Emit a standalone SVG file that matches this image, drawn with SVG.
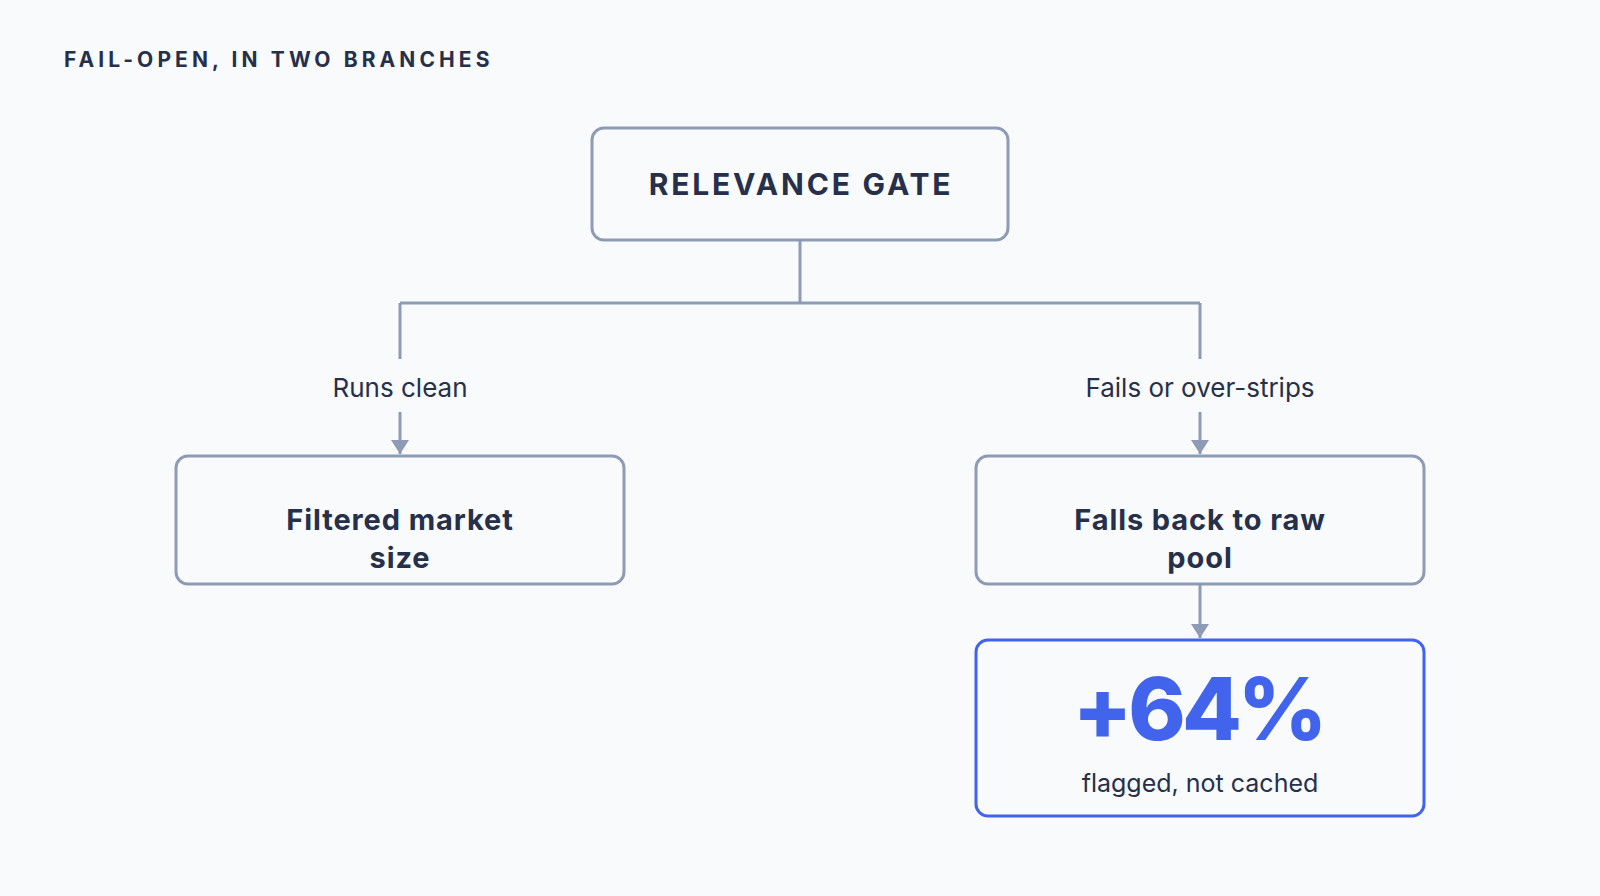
<svg xmlns="http://www.w3.org/2000/svg" width="1600" height="896" viewBox="0 0 1600 896">
<defs>
<marker id="arr" viewBox="0 0 14 18" refX="14" refY="9" markerWidth="14" markerHeight="18" markerUnits="userSpaceOnUse" orient="auto">
<path d="M0,0 L14,9 L0,18 Z" fill="#8E9BB4"/>
</marker>
<style>
.box{fill:#F8FAFC;stroke:#8E9BB4;stroke-width:3}
.hl{fill:#F8FAFC;stroke:#4263EB;stroke-width:3}
.ln{fill:none;stroke:#8E9BB4;stroke-width:3}
.t{font-family:Inter,"Liberation Sans",sans-serif;fill:#26304A;text-anchor:middle}
.title{font-family:Inter,"Liberation Sans",sans-serif;fill:#26304A;font-weight:700;font-size:21px;letter-spacing:4.1px}
.head{font-weight:700;font-size:30px;letter-spacing:2.8px}
.node{font-weight:700;font-size:29px;letter-spacing:0.9px}
.lab{font-size:26px}
.sub{font-size:25px}
.big{font-weight:800;font-size:87px;fill:#4263EB;letter-spacing:-4px}
</style>
</defs>
<rect width="1600" height="896" fill="#F8FAFC"/>
<text class="title" x="64" y="67">FAIL-OPEN, IN TWO BRANCHES</text>
<g id="connectors">
<path class="ln" d="M800,240 V303 M400,303 H1200 M400,303 V359 M1200,303 V359"/>
<path class="ln" d="M400,412 V454" marker-end="url(#arr)"/>
<path class="ln" d="M1200,412 V454" marker-end="url(#arr)"/>
<path class="ln" d="M1200,585 V638" marker-end="url(#arr)"/>
<text class="t lab" x="400" y="397">Runs clean</text>
<text class="t lab" x="1200" y="397">Fails or over-strips</text>
</g>
<g id="gate">
<rect class="box" x="592" y="128" width="416" height="112" rx="12"/>
<text class="t head" x="801" y="195">RELEVANCE GATE</text>
</g>
<g id="filtered">
<rect class="box" x="176" y="456" width="448" height="128" rx="12"/>
<text class="t node" x="400" y="530">Filtered market</text>
<text class="t node" x="400" y="568">size</text>
</g>
<g id="fallback">
<rect class="box" x="976" y="456" width="448" height="128" rx="12"/>
<text class="t node" x="1200" y="530">Falls back to raw</text>
<text class="t node" x="1200" y="568">pool</text>
</g>
<g id="stat">
<rect class="hl" x="976" y="640" width="448" height="176" rx="12"/>
<text class="t big" x="1198" y="740">+64%</text>
<text class="t sub" x="1200" y="792">flagged, not cached</text>
</g>
</svg>
